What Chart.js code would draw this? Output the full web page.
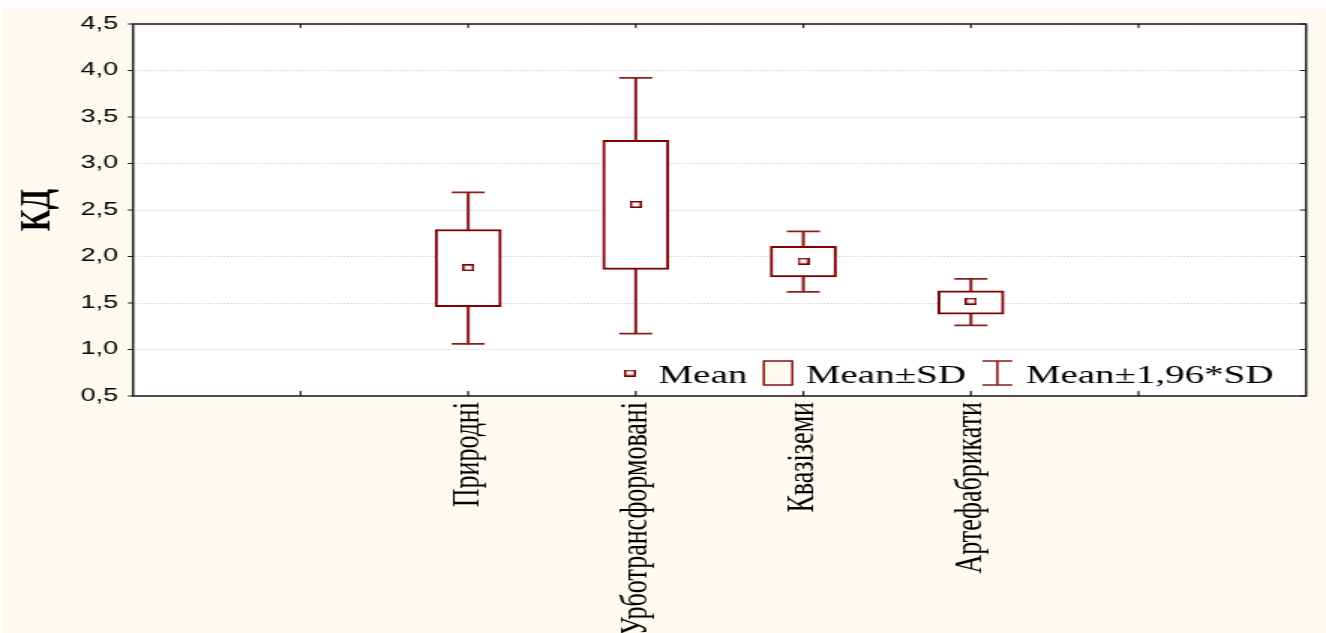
<!DOCTYPE html>
<html lang="uk">
<head>
<meta charset="UTF-8" />
<title>КД</title>
<script src="https://cdn.jsdelivr.net/npm/chart.js@4.4.1/dist/chart.umd.min.js"></script>
<style>
  html, body { margin: 0; padding: 0; background: #fff; }
  canvas { display: block; }
</style>
</head>
<body>
<!-- drawn narrow, shown stretched sideways like the original picture -->
<canvas id="chart" width="884" height="633" style="width:1326px;height:633px"></canvas>
<script>
const categories = ["Природні", "Урботрансформовані", "Квазіземи", "Артефабрикати"];
const means  = [1.88, 2.56, 1.95, 1.52];
const sdLow  = [1.46, 1.86, 1.78, 1.38];
const sdHigh = [2.29, 3.25, 2.11, 1.63];
const ciLow  = [1.06, 1.17, 1.62, 1.26];
const ciHigh = [2.69, 3.92, 2.27, 1.76];
const legendLabels = ["Mean", "Mean±SD", "Mean±1,96*SD"];
const yTitle = "КД";

// two empty slots on each side, as in the original
const axisLabels = ["", "", ...categories, "", ""];

const DARK = "#7f0000";
const WHISK = "#8c1f1f";
const CREAM = "#fffaf0";

function meanMarker() {
  const c = document.createElement("canvas");
  c.width = 8; c.height = 7;
  const g = c.getContext("2d");
  g.fillStyle = "#fff";
  g.fillRect(0, 0, 8, 7);
  g.strokeStyle = DARK;
  g.lineWidth = 1.5;
  g.strokeRect(0.75, 0.75, 6.5, 5.5);
  return c;
}
const marker = meanMarker();

const background = {
  id: "background",
  beforeDraw(chart) {
    const { ctx, width, height, chartArea: a } = chart;
    ctx.save();
    ctx.fillStyle = "#fff";
    ctx.fillRect(0, 0, width, height);
    ctx.fillStyle = CREAM;
    ctx.fillRect(1, 7, width - 1, height - 7);
    ctx.fillStyle = "#fff";
    ctx.fillRect(a.left, a.top, a.right - a.left, a.bottom - a.top);
    ctx.restore();
  }
};

const frame = {
  id: "frame",
  afterDraw(chart) {
    const { ctx, chartArea: a, scales } = chart;
    ctx.save();
    ctx.strokeStyle = "#1a1a1a";
    ctx.lineWidth = 1.5;
    ctx.strokeRect(a.left, a.top, a.right - a.left, a.bottom - a.top);
    ctx.lineWidth = 1.2;
    ctx.beginPath();
    scales.y.ticks.forEach(t => {
      const y = scales.y.getPixelForValue(t.value);
      ctx.moveTo(a.left - 3.5, y); ctx.lineTo(a.left, y);
      ctx.moveTo(a.right - 4, y); ctx.lineTo(a.right, y);
    });
    for (let i = 1; i < axisLabels.length - 1; i++) {
      const x = scales.x.getPixelForTick(i);
      ctx.moveTo(x, a.top); ctx.lineTo(x, a.top + 4);
      ctx.moveTo(x, a.bottom); ctx.lineTo(x, a.bottom - 5);
    }
    ctx.stroke();

    // legend, inside the plot, lower right
    const base = a.bottom - 13;
    const mid = base - 10;
    ctx.font = "26px 'Liberation Serif', serif";
    ctx.fillStyle = "#000";
    ctx.textBaseline = "alphabetic";
    let x = 416;
    ctx.drawImage(marker, x, mid - 3.5);
    x += 8 + 15;
    ctx.fillText(legendLabels[0], x, base);
    x += ctx.measureText(legendLabels[0]).width + 11;

    ctx.fillStyle = CREAM;
    ctx.fillRect(x, mid - 12, 19, 24);
    ctx.strokeStyle = DARK;
    ctx.lineWidth = 1.4;
    ctx.strokeRect(x, mid - 12, 19, 24);
    x += 19 + 9;
    ctx.fillStyle = "#000";
    ctx.fillText(legendLabels[1], x, base);
    x += ctx.measureText(legendLabels[1]).width + 11;

    ctx.strokeStyle = WHISK;
    ctx.lineWidth = 1.6;
    ctx.beginPath();
    ctx.moveTo(x, mid - 12); ctx.lineTo(x + 20, mid - 12);
    ctx.moveTo(x, mid + 12); ctx.lineTo(x + 20, mid + 12);
    ctx.moveTo(x + 10, mid - 12); ctx.lineTo(x + 10, mid + 12);
    ctx.stroke();
    x += 20 + 9;
    ctx.fillText(legendLabels[2], x, base);
    ctx.restore();
  }
};

const stems = categories.map((c, i) => ({ x: c, y: [ciLow[i], ciHigh[i]] }));
const boxes = categories.map((c, i) => ({ x: c, y: [sdLow[i], sdHigh[i]] }));
const caps = categories.flatMap((c, i) => [{ x: c, y: ciLow[i] }, { x: c, y: ciHigh[i] }]);
const meanPts = categories.map((c, i) => ({ x: c, y: means[i] }));

new Chart(document.getElementById("chart"), {
  type: "bar",
  data: {
    labels: axisLabels,
    datasets: [
      {
        type: "line", label: legendLabels[0], data: meanPts, showLine: false,
        pointStyle: marker, pointRadius: 4, order: 0
      },
      {
        label: legendLabels[1], data: boxes, grouped: false, barThickness: 44,
        backgroundColor: "#fff", borderColor: DARK, borderWidth: 2,
        borderSkipped: false, order: 1
      },
      {
        type: "line", label: "caps", data: caps, showLine: false,
        pointStyle: "line", pointRadius: 11, pointBorderWidth: 1.8,
        pointBorderColor: WHISK, order: 2
      },
      {
        label: legendLabels[2], data: stems, grouped: false, barThickness: 1.4,
        backgroundColor: WHISK, borderWidth: 0, order: 3
      }
    ]
  },
  options: {
    responsive: false,
    animation: false,
    devicePixelRatio: 1,
    layout: { padding: { left: 0, top: 24, right: 13.3, bottom: 0 } },
    plugins: { legend: { display: false }, tooltip: { enabled: false } },
    scales: {
      x: {
        type: "category",
        offset: false,
        grid: { display: false, drawTicks: false },
        border: { display: false },
        ticks: {
          autoSkip: false, minRotation: 90, maxRotation: 90, padding: 6,
          color: "#000", font: { family: "'Liberation Serif', serif", size: 26 }
        },
        afterFit(s) {
          s.height = 237;
          s.paddingLeft = 0;
          s.paddingRight = 0;
        }
      },
      y: {
        min: 0.5, max: 4.5,
        grid: { color: "#cdcdcd", lineWidth: 1, drawTicks: false },
        border: { display: false, dash: [1, 1.5] },
        ticks: {
          stepSize: 0.5, padding: 10, color: "#000",
          font: { family: "'Liberation Sans', sans-serif", size: 18 },
          callback: v => v.toFixed(1).replace(".", ",")
        },
        title: {
          display: true, text: yTitle, color: "#000",
          font: { family: "'Liberation Serif', serif", size: 30, weight: "bold" },
          padding: { top: 7.5, bottom: 0 }
        },
        afterFit(s) {
          s.width = 88.7;
          s.paddingTop = 0;
          s.paddingBottom = 0;
        }
      }
    }
  },
  plugins: [background, frame]
});
</script>
</body>
</html>
